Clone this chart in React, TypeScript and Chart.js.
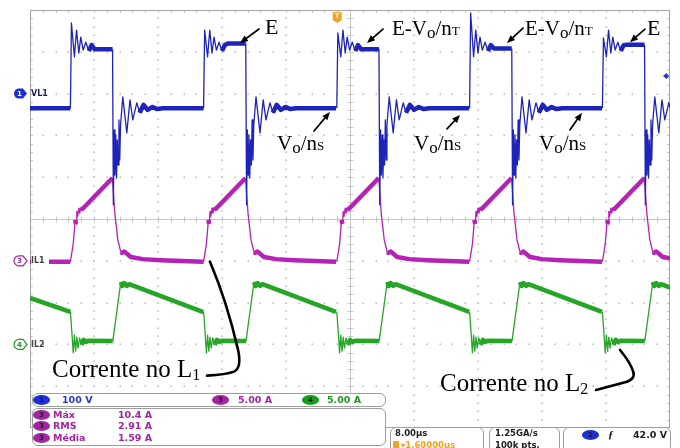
import React, { useEffect, useRef } from 'react';
import { Chart, registerables } from 'chart.js';

Chart.register(...registerables);

// Horizontal: 8.00 µs/div over 10 divisions, trigger at -1.6 µs
const TIME_MIN = -40;
const TIME_MAX = 40;
const TRIGGER_TIME = -1.6;
const TRIGGER_LEVEL = 42.0; // V on channel 1

// Vertical span of each channel over the 10 screen divisions
const VL1_RANGE = { min: -800, max: 200 }; // 100 V/div, ground at +3 div
const IL1_RANGE = { min: -20, max: 30 }; // 5 A/div, ground at -1 div
const IL2_RANGE = { min: -10, max: 40 }; // 5 A/div, ground at -3 div

// Rising edge of VL1 in each switching cycle (µs)
const cycleStarts = [-34.9, -18.25, -1.6, 15.0, 31.6];

// VL1 (V): flat top and first overshoot of each cycle
const vl1Plateau = [106, 120, 106, 108, 117];
const vl1Overshoot = [169, 152, 145, 193, 133];
const vl1Start = -35;
// [µs after the rising edge, V]; 'H' = flat top of the cycle, 'P' = its overshoot
const vl1Cycle: [number, number | 'H' | 'P'][] = [
  [-0.05, -35], [0.08, 'P'], [0.45, 88], [0.72, 152], [1.0, 97], [1.25, 135],
  [1.55, 104], [1.88, 123], [2.25, 102], [2.6, 116], [3.0, 'H'], [5.22, 'H'],
  [5.32, -266], [5.42, -87], [5.52, -195], [5.62, -99], [5.72, -202], [5.82, -111],
  [5.92, -171], [6.02, -63], [6.12, -159], [6.22, -75], [6.5, -8], [7.0, -94],
  [7.4, -15], [7.75, -63], [8.25, -22], [8.6, -46], [9.1, -27], [9.6, -39],
  [10.2, -32], [10.8, -37], [11.5, -35], [16.5, -35],
];

// IL1 (A)
const il1Start = -0.1;
const il1Cycle: [number, number][] = [
  [-0.05, -0.1], [0.3, 2.0], [0.55, 4.9], [0.65, 4.4], [0.75, 5.9], [0.85, 5.3],
  [1.0, 6.3], [1.12, 5.7], [1.25, 6.4], [1.45, 6.2], [5.2, 9.9], [5.5, 5.7],
  [5.88, 2.5], [6.25, 1.05], [6.4, 0.95], [6.7, 1.1], [7.5, 0.45], [9.0, 0.2],
  [11.25, 0.08], [16.5, -0.1],
];

// IL2 (A)
const il2Start = 5.55;
const il2Cycle: [number, number][] = [
  [-0.05, 3.9], [0.12, 1.6], [0.3, -1.0], [0.45, 1.12], [0.6, -0.8], [0.75, 0.88],
  [0.9, -0.43], [1.1, 0.77], [1.35, -0.07], [1.6, 0.55], [1.9, 0.3], [2.2, 0.45],
  [5.25, 0.4], [6.25, 7.46], [6.45, 6.98], [6.7, 7.34], [7.0, 7.0], [7.3, 7.2],
  [16.5, 3.9],
];

// Bottom read-outs
const channelScales = [
  { ch: '1', text: '100 V', pill: '#1f2fd6', color: '#2a36d0', left: 33, textLeft: 62 },
  { ch: '3', text: '5.00 A', pill: '#a3259f', color: '#a3259f', left: 212, textLeft: 238 },
  { ch: '4', text: '5.00 A', pill: '#14a014', color: '#239a23', left: 302, textLeft: 327 },
];
const measureNames = ['Máx', 'RMS', 'Média'];
const measureValues = ['10.4 A', '2.91 A', '1.59 A'];
const timebaseText = '8.00µs';
const delayText = '▾1.60000µs';
const sampleRateText = '1.25GA/s';
const recordText = '100k pts.';
const triggerText = '42.0 V';

// Callouts on VL1: arrow tip in data units, tail and text offsets in px
const vl1Notes = [
  { t: -13.75, v: 121, tail: [19, -14], text: [25, -9], label: 'E' },
  { t: -2.5, v: -44, tail: [-16, 19], text: [-53, 38], label: 'VS' },
  { t: 2.125, v: 121, tail: [16, -14], text: [25, -8], label: 'ET' },
  { t: 13.75, v: -51, tail: [-13, 14], text: [-46, 35], label: 'VS' },
  { t: 19.625, v: 121, tail: [16, -15], text: [18, -8], label: 'ET' },
  { t: 29, v: -46, tail: [-12, 17], text: [-43, 37], label: 'VS' },
  { t: 35, v: 123, tail: [15, -13], text: [17, -7], label: 'E' },
];

// Callouts on the inductor currents
const currentNotes = [
  { axis: 'yI1', t: -17.5, v: -0.1, sub: '1', text: [-158, 115], hook: 'L1' },
  { axis: 'yI2', t: 33.75, v: -0.67, sub: '2', text: [-180, 41], hook: 'L2' },
];

type Pt = { x: number; y: number };

function buildTrace(start: number, cycle: [number, number | 'H' | 'P'][]): Pt[] {
  const pts: Pt[] = [{ x: TIME_MIN, y: start }];
  cycleStarts.forEach((t0, k) => {
    for (const [dt, v] of cycle) {
      const y = v === 'H' ? vl1Plateau[k] : v === 'P' ? vl1Overshoot[k] : v;
      pts.push({ x: t0 + dt, y });
    }
  });
  return pts;
}

const SERIF = '"Liberation Serif", "Times New Roman", serif';
const SANS = '"DejaVu Sans", Verdana, sans-serif';

type Part = { t: string; s: number; dy?: number };
const LABELS: Record<string, Part[]> = {
  E: [{ t: 'E', s: 22 }],
  ET: [{ t: 'E-V', s: 21 }, { t: 'o', s: 17, dy: 3 }, { t: '/n', s: 21 }, { t: 'T', s: 13 }],
  VS: [{ t: 'V', s: 21 }, { t: 'o', s: 17, dy: 3 }, { t: '/n', s: 21 }, { t: 'S', s: 13 }],
};

function drawParts(ctx: CanvasRenderingContext2D, x: number, y: number, parts: Part[]) {
  let cx = x;
  ctx.textBaseline = 'alphabetic';
  ctx.textAlign = 'left';
  for (const p of parts) {
    ctx.font = `${p.s}px ${SERIF}`;
    ctx.fillText(p.t, cx, y + (p.dy || 0));
    cx += ctx.measureText(p.t).width;
  }
}

function drawArrow(ctx: CanvasRenderingContext2D, x0: number, y0: number, x1: number, y1: number) {
  const a = Math.atan2(y1 - y0, x1 - x0);
  const head = 8;
  const half = 3.3;
  const bx = x1 - head * Math.cos(a);
  const by = y1 - head * Math.sin(a);
  ctx.lineWidth = 1.7;
  ctx.beginPath();
  ctx.moveTo(x0, y0);
  ctx.lineTo(bx, by);
  ctx.stroke();
  ctx.beginPath();
  ctx.moveTo(x1, y1);
  ctx.lineTo(bx + half * Math.sin(a), by - half * Math.cos(a));
  ctx.lineTo(bx - half * Math.sin(a), by + half * Math.cos(a));
  ctx.closePath();
  ctx.fill();
}

const graticule = {
  id: 'graticule',
  beforeDatasetsDraw(chart: any) {
    const { ctx, chartArea } = chart;
    const { left, top, right, bottom } = chartArea;
    const w = right - left;
    const h = bottom - top;
    const dx = w / 10;
    const dy = h / 10;
    ctx.save();
    ctx.fillStyle = '#b9b9b9';
    for (let i = 1; i < 10; i++) {
      if (i === 5) continue;
      const x = Math.round(left + i * dx);
      for (let j = 1; j < 50; j++) ctx.fillRect(x - 0.5, Math.round(top + (j * dy) / 5) - 0.5, 1.5, 1.5);
      const y = Math.round(top + i * dy);
      for (let j = 1; j < 50; j++) ctx.fillRect(Math.round(left + (j * dx) / 5) - 0.5, y - 0.5, 1.5, 1.5);
    }
    const cx = Math.round(left + w / 2) + 0.5;
    const cy = Math.round(top + h / 2) + 0.5;
    ctx.strokeStyle = '#c6c6c6';
    ctx.lineWidth = 1;
    ctx.beginPath();
    ctx.moveTo(left, cy);
    ctx.lineTo(right, cy);
    ctx.moveTo(cx, top);
    ctx.lineTo(cx, bottom);
    for (let j = 1; j < 50; j++) {
      const x = Math.round(left + (j * dx) / 5) + 0.5;
      ctx.moveTo(x, cy - 3);
      ctx.lineTo(x, cy + 3);
      const y = Math.round(top + (j * dy) / 5) + 0.5;
      ctx.moveTo(cx - 3, y);
      ctx.lineTo(cx + 3, y);
      ctx.moveTo(x, top);
      ctx.lineTo(x, top + 3);
      ctx.moveTo(left, y);
      ctx.lineTo(left + 3, y);
      ctx.moveTo(right - 3, y);
      ctx.lineTo(right, y);
    }
    ctx.stroke();
    ctx.strokeStyle = '#a4a4a4';
    ctx.strokeRect(left + 0.5, top + 0.5, w - 1, h - 1);
    ctx.restore();
  },
};

function tagPath(ctx: CanvasRenderingContext2D, x: number, y: number) {
  ctx.beginPath();
  ctx.moveTo(x + 5, y - 5);
  ctx.lineTo(x + 9, y - 5);
  ctx.lineTo(x + 13, y);
  ctx.lineTo(x + 9, y + 5);
  ctx.lineTo(x + 5, y + 5);
  ctx.arc(x + 5, y, 5, Math.PI / 2, (3 * Math.PI) / 2);
  ctx.closePath();
}

const markers = {
  id: 'markers',
  afterDatasetsDraw(chart: any) {
    const { ctx, chartArea, scales } = chart;
    const { left, top, right } = chartArea;
    ctx.save();
    const tags = [
      { y: scales.yV.getPixelForValue(0), n: '1', name: 'VL1', color: '#1f2fd6', fill: true, cover: false },
      { y: scales.yI1.getPixelForValue(0), n: '3', name: 'IL1', color: '#a3259f', fill: false, cover: true },
      { y: scales.yI2.getPixelForValue(0), n: '4', name: 'IL2', color: '#1f9a1f', fill: false, cover: false },
    ];
    for (const tg of tags) {
      if (tg.cover) {
        ctx.fillStyle = '#ffffff';
        ctx.fillRect(left + 1, tg.y - 7, 48 - left, 14);
      }
      tagPath(ctx, 14, tg.y);
      ctx.lineWidth = 1.2;
      if (tg.fill) {
        ctx.fillStyle = tg.color;
        ctx.fill();
      } else {
        ctx.strokeStyle = tg.color;
        ctx.stroke();
      }
      ctx.fillStyle = tg.fill ? '#ffffff' : tg.color;
      ctx.font = `bold 7px ${SANS}`;
      ctx.textAlign = 'center';
      ctx.textBaseline = 'middle';
      ctx.fillText(tg.n, 19.5, tg.y + 0.5);
      ctx.fillStyle = tg.fill ? '#1b1f5a' : '#444444';
      ctx.font = `bold 8px ${SANS}`;
      ctx.textAlign = 'left';
      ctx.fillText(tg.name, 31, tg.y + 0.5);
    }
    // trigger position flag on the top edge
    const tx = scales.x.getPixelForValue(TRIGGER_TIME);
    ctx.fillStyle = '#f2a22a';
    ctx.beginPath();
    ctx.moveTo(tx - 4.5, top + 2);
    ctx.lineTo(tx + 4.5, top + 2);
    ctx.lineTo(tx + 4.5, top + 10);
    ctx.lineTo(tx, top + 13);
    ctx.lineTo(tx - 4.5, top + 10);
    ctx.closePath();
    ctx.fill();
    ctx.fillStyle = '#ffffff';
    ctx.font = `bold 7px ${SANS}`;
    ctx.textAlign = 'center';
    ctx.textBaseline = 'middle';
    ctx.fillText('T', tx, top + 6.5);
    // trigger level mark on the right edge
    const ly = scales.yV.getPixelForValue(TRIGGER_LEVEL);
    ctx.fillStyle = '#2a36d0';
    ctx.beginPath();
    ctx.moveTo(right - 7, ly);
    ctx.lineTo(right - 3.5, ly - 3);
    ctx.lineTo(right - 1, ly);
    ctx.lineTo(right - 3.5, ly + 3);
    ctx.closePath();
    ctx.fill();
    ctx.restore();
  },
};

const callouts = {
  id: 'callouts',
  afterDatasetsDraw(chart: any) {
    const { ctx, scales } = chart;
    ctx.save();
    ctx.fillStyle = '#000000';
    ctx.strokeStyle = '#000000';
    ctx.lineCap = 'round';
    for (const n of vl1Notes) {
      const px = scales.x.getPixelForValue(n.t);
      const py = scales.yV.getPixelForValue(n.v);
      drawArrow(ctx, px + n.tail[0], py + n.tail[1], px, py);
      drawParts(ctx, px + n.text[0], py + n.text[1], LABELS[n.label]);
    }
    for (const n of currentNotes) {
      const px = scales.x.getPixelForValue(n.t);
      const py = scales[n.axis].getPixelForValue(n.v);
      ctx.lineWidth = 2.6;
      ctx.beginPath();
      ctx.moveTo(px, py);
      if (n.hook === 'L1') {
        ctx.quadraticCurveTo(px + 17, py + 40, px + 28, py + 88);
        ctx.quadraticCurveTo(px + 32, py + 106, px + 24, py + 110);
        ctx.quadraticCurveTo(px + 16, py + 113, px - 3, py + 114);
      } else {
        ctx.quadraticCurveTo(px + 10, py + 12, px + 13, py + 21);
        ctx.quadraticCurveTo(px + 16, py + 29, px + 6, py + 32);
        ctx.lineTo(px - 24, py + 40);
      }
      ctx.stroke();
      drawParts(ctx, px + n.text[0], py + n.text[1], [
        { t: 'Corrente no L', s: 25 },
        { t: n.sub, s: 16, dy: 3 },
      ]);
    }
    ctx.restore();
  },
};

const segWidth = (c: any) => {
  const dx = Math.abs(c.p1.x - c.p0.x);
  const dy = Math.abs(c.p1.y - c.p0.y);
  return dy > 1.6 * dx + 3 ? 1.3 : 4.5;
};

function traceDataset(data: Pt[], color: string, axis: string) {
  return {
    data,
    yAxisID: axis,
    borderColor: color,
    borderWidth: 4.5,
    borderJoinStyle: 'round' as const,
    pointRadius: 0,
    tension: 0,
    segment: { borderWidth: segWidth },
  };
}

function InfoPanel() {
  const boxStyle = (left: number, top: number, width: number, height: number): React.CSSProperties => ({
    position: 'absolute',
    left,
    top,
    width,
    height,
    boxSizing: 'border-box',
    border: '1px solid #9e9e9e',
    borderRadius: 6,
    background: '#ffffff',
  });
  const text = (left: number, mid: number, s: string, color: string, size: number, key?: string) => (
    <div
      key={key}
      style={{
        position: 'absolute',
        left,
        top: mid - size / 2 - 1,
        color,
        font: `bold ${size}px ${SANS}`,
        lineHeight: `${size + 2}px`,
        whiteSpace: 'nowrap',
      }}
    >
      {s}
    </div>
  );
  const pill = (left: number, mid: number, n: string, color: string, key?: string) => (
    <div
      key={key}
      style={{
        position: 'absolute',
        left,
        top: mid - 5,
        width: 17,
        height: 10,
        borderRadius: '50%',
        background: color,
        color: '#20163a',
        font: `bold 7px ${SANS}`,
        lineHeight: '10px',
        textAlign: 'center',
      }}
    >
      {n}
    </div>
  );
  return (
    <>
      <div style={boxStyle(32, 393, 354, 14)} />
      {channelScales.map((c) => (
        <React.Fragment key={c.ch}>
          {pill(c.left, 400, c.ch, c.pill)}
          {text(c.textLeft, 400, c.text, c.color, 9.5)}
        </React.Fragment>
      ))}
      <div style={boxStyle(32, 408, 354, 38)} />
      {measureNames.map((m, i) => (
        <React.Fragment key={m}>
          {pill(33, 414.5 + i * 11.5, '3', '#a3259f')}
          {text(53, 414.5 + i * 11.5, m, '#a3259f', 9.5)}
          {text(118, 414.5 + i * 11.5, measureValues[i], '#a3259f', 9.5)}
        </React.Fragment>
      ))}
      <div style={boxStyle(390, 427, 94, 30)} />
      {text(395, 433.5, timebaseText, '#222222', 8.5)}
      <div style={{ position: 'absolute', left: 393, top: 441, width: 6, height: 8, background: '#f2a22a', borderRadius: 1 }} />
      {text(401, 445.5, delayText, '#f2a22a', 8.5)}
      <div style={boxStyle(489, 427, 71, 30)} />
      {text(495, 433.5, sampleRateText, '#222222', 8.5)}
      {text(495, 445, recordText, '#222222', 8.5)}
      <div style={boxStyle(563, 427, 108, 30)} />
      {pill(582, 435, '1', '#1f2fd6')}
      <div
        style={{
          position: 'absolute',
          left: 608,
          top: 428,
          font: `italic bold 11px ${SERIF}`,
          color: '#111111',
        }}
      >
        ƒ
      </div>
      {text(633, 435, triggerText, '#222222', 9.5)}
    </>
  );
}

export default function App() {
  const canvasRef = useRef<HTMLCanvasElement>(null);

  useEffect(() => {
    const canvas = canvasRef.current;
    if (!canvas) return;
    const chart = new Chart(canvas, {
      type: 'line',
      data: {
        datasets: [
          traceDataset(buildTrace(vl1Start, vl1Cycle), '#1e24bb', 'yV'),
          traceDataset(buildTrace(il1Start, il1Cycle), '#b522b5', 'yI1'),
          traceDataset(buildTrace(il2Start, il2Cycle), '#27a527', 'yI2'),
        ] as any,
      },
      options: {
        animation: false,
        responsive: false,
        devicePixelRatio: 1,
        layout: { padding: { left: 30, top: 10, right: 10, bottom: 20 } },
        scales: {
          x: { type: 'linear', min: TIME_MIN, max: TIME_MAX, display: false },
          yV: { type: 'linear', ...VL1_RANGE, display: false },
          yI1: { type: 'linear', ...IL1_RANGE, display: false },
          yI2: { type: 'linear', ...IL2_RANGE, display: false },
        },
        plugins: { legend: { display: false }, tooltip: { enabled: false } },
        elements: { point: { radius: 0 } },
      },
      plugins: [graticule, markers, callouts],
    });
    return () => chart.destroy();
  }, []);

  return (
    <div
      style={{
        position: 'absolute',
        left: 0,
        top: 0,
        width: 680,
        height: 448,
        overflow: 'hidden',
        background: '#ffffff',
      }}
    >
      <canvas ref={canvasRef} width={680} height={448} style={{ position: 'absolute', left: 0, top: 0 }} />
      <InfoPanel />
    </div>
  );
}
